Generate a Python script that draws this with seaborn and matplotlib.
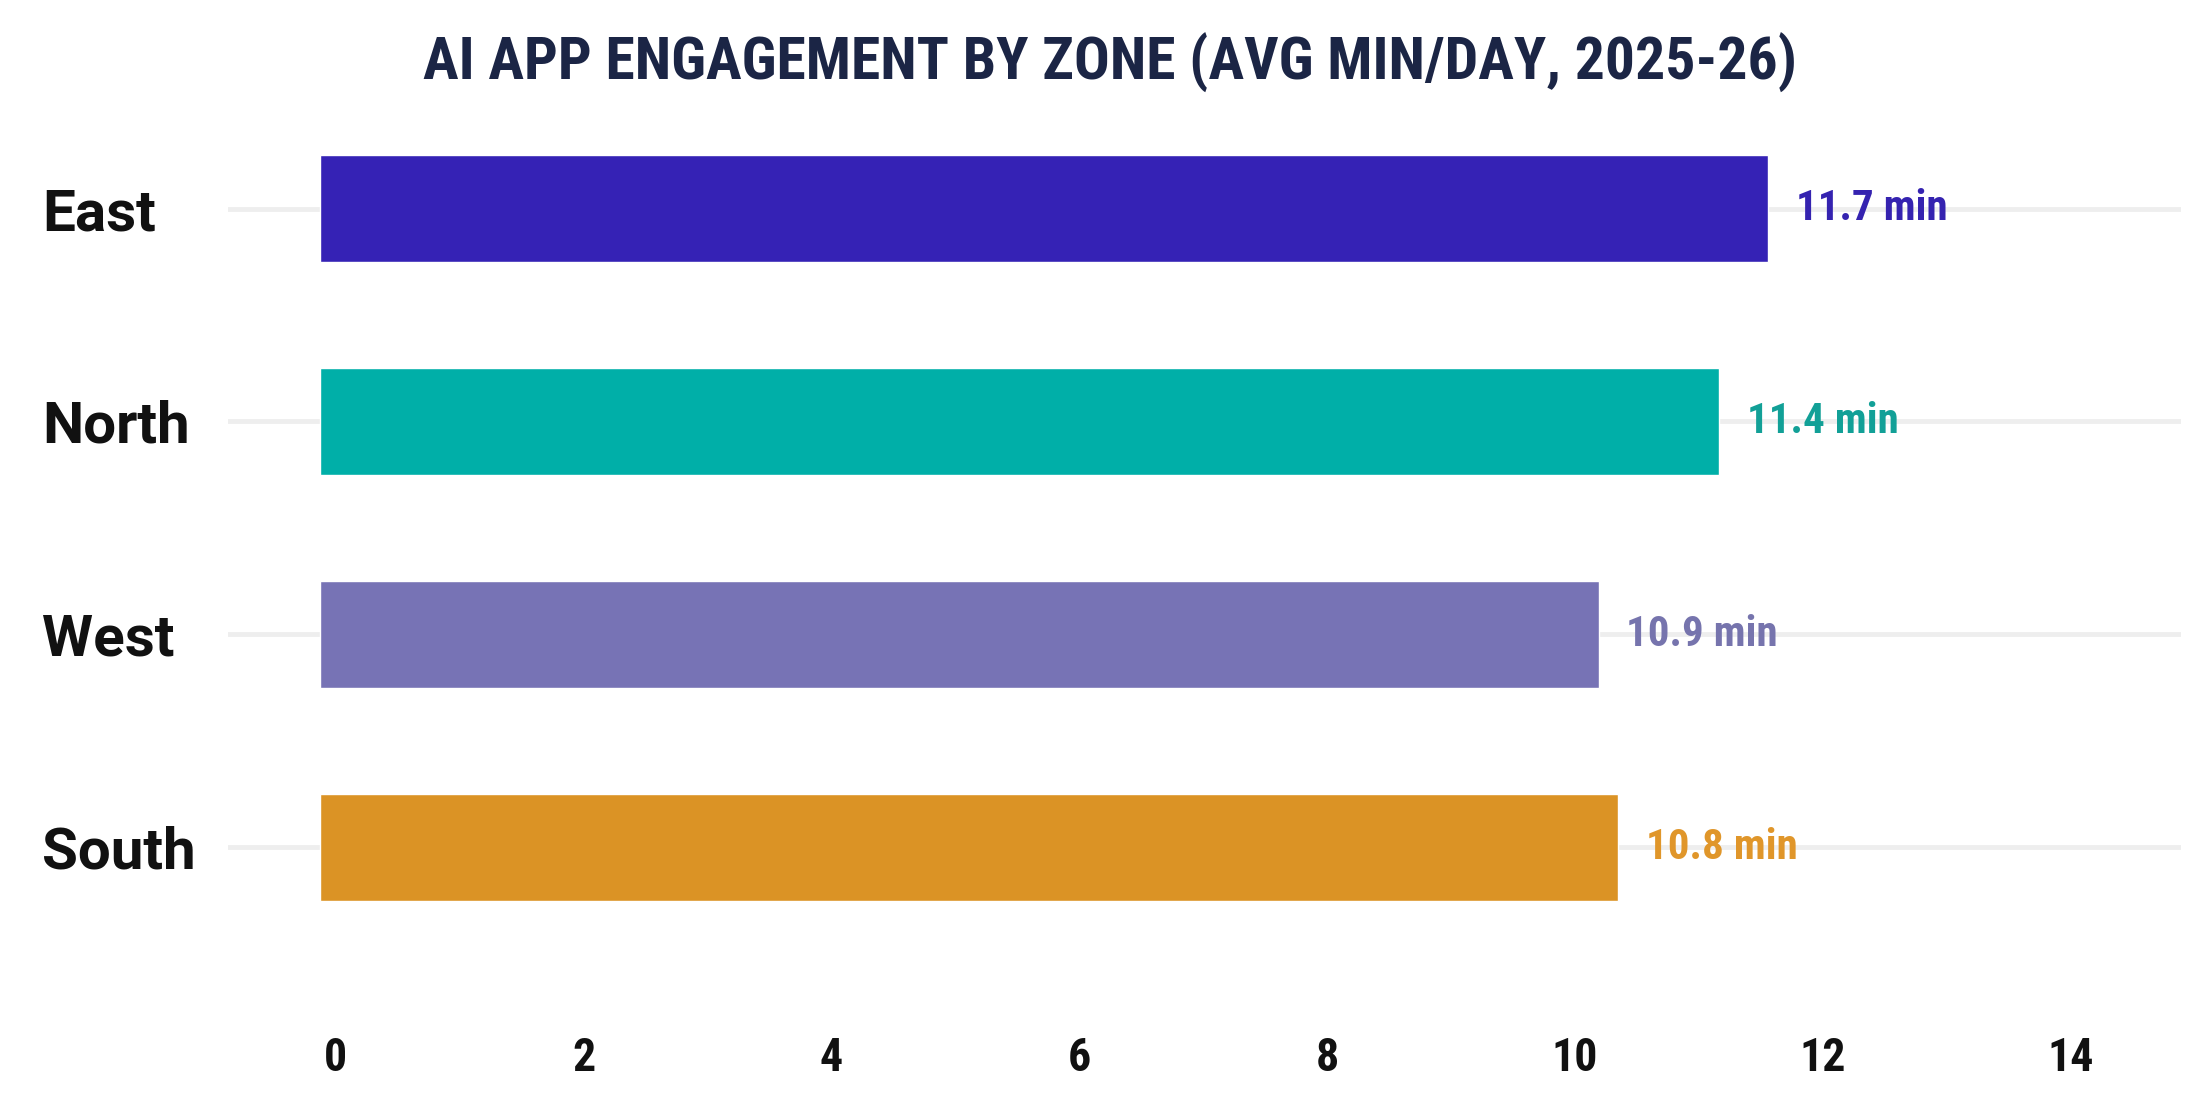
import matplotlib
matplotlib.use("Agg")
import matplotlib.pyplot as plt
import matplotlib.transforms as mtransforms
from matplotlib import font_manager as fm
import seaborn as sns
import pandas as pd

# ---- data ----
zones = ["East", "North", "West", "South"]
bar_values = [11.69, 11.29, 10.32, 10.48]          # bar lengths as drawn
label_values = [11.7, 11.4, 10.9, 10.8]            # printed value labels
bar_colors = ["#3522b5", "#00afa8", "#7773b5", "#db9325"]
label_colors = ["#3523b0", "#12a097", "#7674ad", "#e0962a"]
x_ticks = [0, 2, 4, 6, 8, 10, 12, 14]
title = "AI APP ENGAGEMENT BY ZONE (AVG MIN/DAY, 2025-26)"

def pick(fams):
    for f in fams:
        try:
            fm.findfont(fm.FontProperties(family=f), fallback_to_default=False)
            return f
        except Exception:
            pass
    return "DejaVu Sans"

cond = pick(["Roboto Condensed", "DejaVu Sans Condensed", "Roboto"])
reg = pick(["Roboto", "DejaVu Sans"])

sns.set_theme(style="white")
plt.rcParams["font.family"] = [reg, "DejaVu Sans"]

W, H, DPI = 2203, 1096, 100
fig = plt.figure(figsize=(W / DPI, H / DPI), dpi=DPI)
fig.patch.set_facecolor("white")

ax_left, ax_right = 228, 2181
ax_top, ax_bot = 110, 1000
ax = fig.add_axes([ax_left / W, 1 - ax_bot / H, (ax_right - ax_left) / W, (ax_bot - ax_top) / H])

df = pd.DataFrame({"zone": zones, "value": bar_values})
sns.barplot(data=df, y="zone", x="value", hue="zone", order=zones, hue_order=zones,
            palette=bar_colors, orient="h", width=0.5, legend=False, ax=ax,
            saturation=1, zorder=3)

ax.set_xlim(-0.74, 15.02)
ax.set_ylim(3.717, -0.463)
ax.set_xlabel("")
ax.set_ylabel("")
for s in ax.spines.values():
    s.set_visible(False)

ax.grid(False)
ax.yaxis.grid(True, color="#eeeeee", linewidth=3.5, zorder=0)
ax.set_axisbelow(True)

ax.set_xticks(x_ticks)
ax.set_xticklabels([str(t) for t in x_ticks], fontsize=33, fontweight="bold",
                   color="#111111", family=[cond, "DejaVu Sans"])
ax.tick_params(axis="x", length=0, pad=26)
off = mtransforms.ScaledTranslation(16 / DPI, 0, fig.dpi_scale_trans)
for lab in ax.get_xticklabels():
    lab.set_transform(lab.get_transform() + off)

ax.set_yticks(range(len(zones)))
ax.set_yticklabels(zones, fontsize=42, fontweight="bold", color="#111111", ha="left")
ax.tick_params(axis="y", length=0, pad=(ax_left - 42) / DPI * 72)

for i, cont in enumerate(ax.containers):
    ax.bar_label(cont, labels=[f"{label_values[i]} min"], padding=20,
                 color=label_colors[i], fontsize=31, fontweight="bold",
                 family=[cond, "DejaVu Sans"])

t = fig.text(1110 / W, 1 - 63 / H, title, ha="center", va="center",
             fontsize=34, fontweight="black", color="#1b2545",
             family=[cond, "DejaVu Sans"])
# fit title width to ~1377 px
fig.canvas.draw()
r = fig.canvas.get_renderer()
w = t.get_window_extent(r).width
t.set_fontsize(34 * 1377 / w)

fig.savefig("out.png", dpi=DPI, facecolor="white")
